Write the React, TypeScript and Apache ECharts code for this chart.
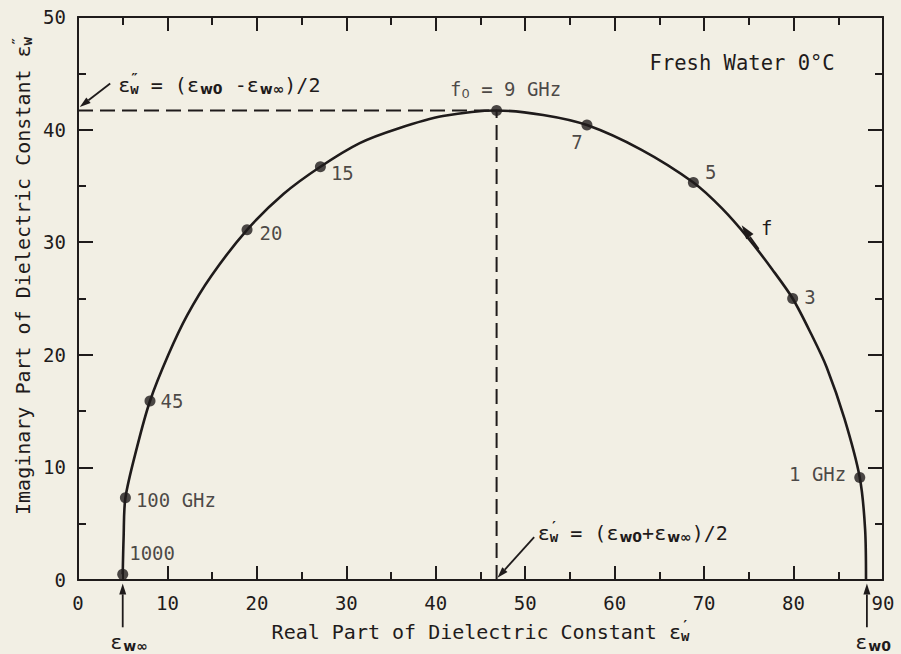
import React, { useEffect, useRef } from 'react';
import * as echarts from 'echarts';

// ---- data ----
const xAxisRange = [0, 90];
const xInterval = 10;
const yAxisRange = [0, 50];
const yInterval = 10;

// points read along the drawn Cole-Cole arc (eps', eps'')
const curveX = [5.0, 5.1, 5.3, 6.6, 8.05, 10.1, 12.2, 14.9, 18.9, 23.0, 27.1, 31.5, 35.8, 40.8, 46.8, 52.0, 56.9, 63.0, 68.8, 72.0, 75.0, 77.6, 79.9, 82.0, 83.7, 85.7, 87.4, 88.0, 88.1];
const curveY = [0.5, 3.8, 7.3, 11.8, 15.9, 20.0, 23.5, 27.0, 31.1, 34.3, 36.7, 38.8, 40.1, 41.2, 41.7, 41.3, 40.4, 38.2, 35.3, 33.0, 30.3, 27.6, 25.0, 21.8, 18.9, 14.3, 9.1, 4.5, 0.0];

// labelled frequency markers
const freqLabels = ['1000', '100 GHz', '45', '20', '15', 'f0 = 9 GHz', '7', '5', '3', '1 GHz'];
const freqX = [5.0, 5.3, 8.05, 18.9, 27.1, 46.8, 56.9, 68.8, 79.9, 87.4];
const freqY = [0.5, 7.3, 15.9, 31.1, 36.7, 41.7, 40.4, 35.3, 25.0, 9.1];

// relaxation peak and limits
const peakX = 46.8;
const peakY = 41.7;
const epsInf = 5.0;
const eps0 = 88.2;

// ---- styles ----
const MONO = 'DejaVu Sans Mono';
const SANS = 'DejaVu Sans';
const INK = '#1f1b1b';
const BG = '#f2efe4';

const labelPlacement: any[] = [
  { position: 'right', offset: [-4, -21] },
  { position: 'right', offset: [0, 2] },
  { position: 'right', offset: [0, 0] },
  { position: 'right', offset: [2, 3] },
  { position: 'right', offset: [0, 6] },
  { position: 'top', offset: [9, 0] },
  { position: 'bottom', offset: [-10, -3] },
  { position: 'right', offset: [1, -11] },
  { position: 'right', offset: [1, -2] },
  { position: 'left', offset: [-3, -4] },
];

const SUP = 14;
const rich: any = {
  m: { fontFamily: MONO, fontSize: 19, color: INK },
  a: { fontFamily: MONO, fontSize: 20, color: INK },
  s: { fontFamily: SANS, fontSize: 14, fontWeight: 'bold', color: INK, padding: [8, 0, 0, 1] },
  sn: { fontFamily: SANS, fontSize: 13, color: INK, padding: [8, 0, 0, 0] },
  p: { fontFamily: MONO, fontSize: SUP, fontWeight: 'bold', color: INK, padding: [0, 0, 13, 0] },
  w: { fontFamily: MONO, fontSize: SUP, fontWeight: 'bold', color: INK, padding: [8, 0, 0, -SUP * 0.602] },
};

const EPP = '{p|″}{w|w}'; // eps'' subscript w
const EP = '{p|′}{w|w}'; // eps' subscript w

export default function App() {
  const ref = useRef<HTMLDivElement>(null);

  useEffect(() => {
    document.body.style.margin = '0';
    document.body.style.background = BG;
    const chart = echarts.init(ref.current!, null, { renderer: 'svg' });
    const line = { color: INK, width: 2 };
    const mkX = (pos: string, labels: boolean): any => ({
      type: 'value',
      position: pos,
      min: xAxisRange[0],
      max: xAxisRange[1],
      interval: xInterval,
      axisLine: { show: true, onZero: false, lineStyle: line },
      axisTick: { show: true, inside: true, length: 14, lineStyle: line },
      minorTick: { show: true, splitNumber: 2, length: 8, lineStyle: line },
      splitLine: { show: false },
      axisLabel: { show: labels, margin: 13, fontFamily: MONO, fontSize: 19, color: INK },
    });
    const mkY = (pos: string, labels: boolean): any => ({
      type: 'value',
      position: pos,
      min: yAxisRange[0],
      max: yAxisRange[1],
      interval: yInterval,
      axisLine: { show: true, onZero: false, lineStyle: line },
      axisTick: { show: true, inside: true, length: 15, lineStyle: line },
      minorTick: { show: true, splitNumber: 2, length: 8, lineStyle: line },
      splitLine: { show: false },
      axisLabel: { show: labels, margin: 12, fontFamily: MONO, fontSize: 19, color: INK },
    });
    const xBottom = mkX('bottom', true);
    xBottom.name = '{a|Real Part of Dielectric Constant ε}' + EP;
    xBottom.nameLocation = 'middle';
    xBottom.nameGap = 38;
    xBottom.nameTextStyle = { fontFamily: MONO, fontSize: 20, color: INK, rich };

    const curve = curveX.map((x, i) => [x, curveY[i]]);
    const points = freqX.map((x, i) => ({
      value: [x, freqY[i]],
      name: freqLabels[i],
      label: labelPlacement[i],
    }));

    chart.setOption({
      animation: false,
      backgroundColor: BG,
      grid: { left: 78, right: 18, top: 17, bottom: 74 },
      xAxis: [xBottom, mkX('top', false)],
      yAxis: [mkY('left', true), mkY('right', false)],
      series: [
        {
          type: 'line',
          data: [[xAxisRange[0], peakY], [peakX, peakY]],
          showSymbol: false,
          lineStyle: { color: INK, width: 2, type: [15, 7] },
          silent: true,
        },
        {
          type: 'line',
          data: [[peakX, yAxisRange[0]], [peakX, peakY]],
          showSymbol: false,
          lineStyle: { color: INK, width: 2, type: [15, 7] },
          silent: true,
        },
        {
          type: 'line',
          data: curve,
          smooth: 0.3,
          showSymbol: false,
          lineStyle: { color: INK, width: 2.6 },
          z: 3,
        },
        {
          type: 'scatter',
          data: points,
          symbolSize: 11,
          itemStyle: { color: INK },
          z: 4,
          label: {
            show: true,
            fontFamily: MONO,
            fontSize: 19,
            color: INK,
            rich,
            formatter: (p: any) =>
              p.name.startsWith('f0') ? '{m|f}{sn|0}{m| = 9 GHz}' : p.name,
          },
        },
      ],
    });

    const px = (x: number, y: number) =>
      chart.convertToPixel({ xAxisIndex: 0, yAxisIndex: 0 }, [x, y]) as number[];

    const arrow = (a: number[], b: number[], head = 11, half = 3.5): any[] => {
      const dx = b[0] - a[0];
      const dy = b[1] - a[1];
      const len = Math.hypot(dx, dy);
      const ux = dx / len;
      const uy = dy / len;
      const bx = b[0] - ux * head;
      const by = b[1] - uy * head;
      return [
        {
          type: 'line',
          shape: { x1: a[0], y1: a[1], x2: bx, y2: by },
          style: { stroke: INK, lineWidth: 1.8 },
        },
        {
          type: 'polygon',
          shape: {
            points: [
              [b[0], b[1]],
              [bx - uy * half, by + ux * half],
              [bx + uy * half, by - ux * half],
            ],
          },
          style: { fill: INK },
        },
      ];
    };

    const text = (pos: number[], t: string, extra: any = {}): any => ({
      type: 'text',
      x: pos[0],
      y: pos[1],
      style: {
        text: t,
        rich,
        fontFamily: MONO,
        fontSize: 20,
        fill: INK,
        align: 'left',
        verticalAlign: 'middle',
        ...extra,
      },
    });

    const yName = px(-6.1, 27.0);
    const graphic: any[] = [
      ...arrow(px(3.6, 44.1), px(0.2, 42.0)),
      ...arrow(px(51.0, 3.8), px(peakX + 0.1, 0.2)),
      ...arrow(px(epsInf, -4.2), px(epsInf, -0.3)),
      ...arrow(px(eps0, -4.2), px(eps0, -0.3)),
      ...arrow(px(76.1, 29.4), px(74.2, 31.5), 14, 4.5),
      text(px(63.9, 45.9), 'Fresh Water 0°C', { fontSize: 20.5 }),
      text(px(4.5, 44.0), '{a|ε}' + EPP + '{a| = (ε}{s|w0}{a| -ε}{s|w∞}{a|)/2}'),
      text(px(51.4, 4.2), '{a|ε}' + EP + '{a| = (ε}{s|w0}{a|+ε}{s|w∞}{a|)/2}'),
      text(px(3.6, -5.5), '{a|ε}{s|w∞}'),
      text(px(86.9, -5.5), '{a|ε}{s|w0}'),
      text(px(77.0, 31.3), 'f', { align: 'center', fontSize: 19 }),
      {
        type: 'text',
        x: yName[0],
        y: yName[1],
        rotation: Math.PI / 2,
        style: {
          text: '{a|Imaginary Part of Dielectric Constant ε}' + EPP,
          rich,
          fontFamily: MONO,
          fontSize: 20,
          fill: INK,
          align: 'center',
          verticalAlign: 'middle',
        },
      },
    ];
    chart.setOption({ graphic });

    return () => chart.dispose();
  }, []);

  return (
    <div
      ref={ref}
      style={{ position: 'fixed', left: 0, top: 0, width: 901, height: 654, background: BG }}
    />
  );
}
